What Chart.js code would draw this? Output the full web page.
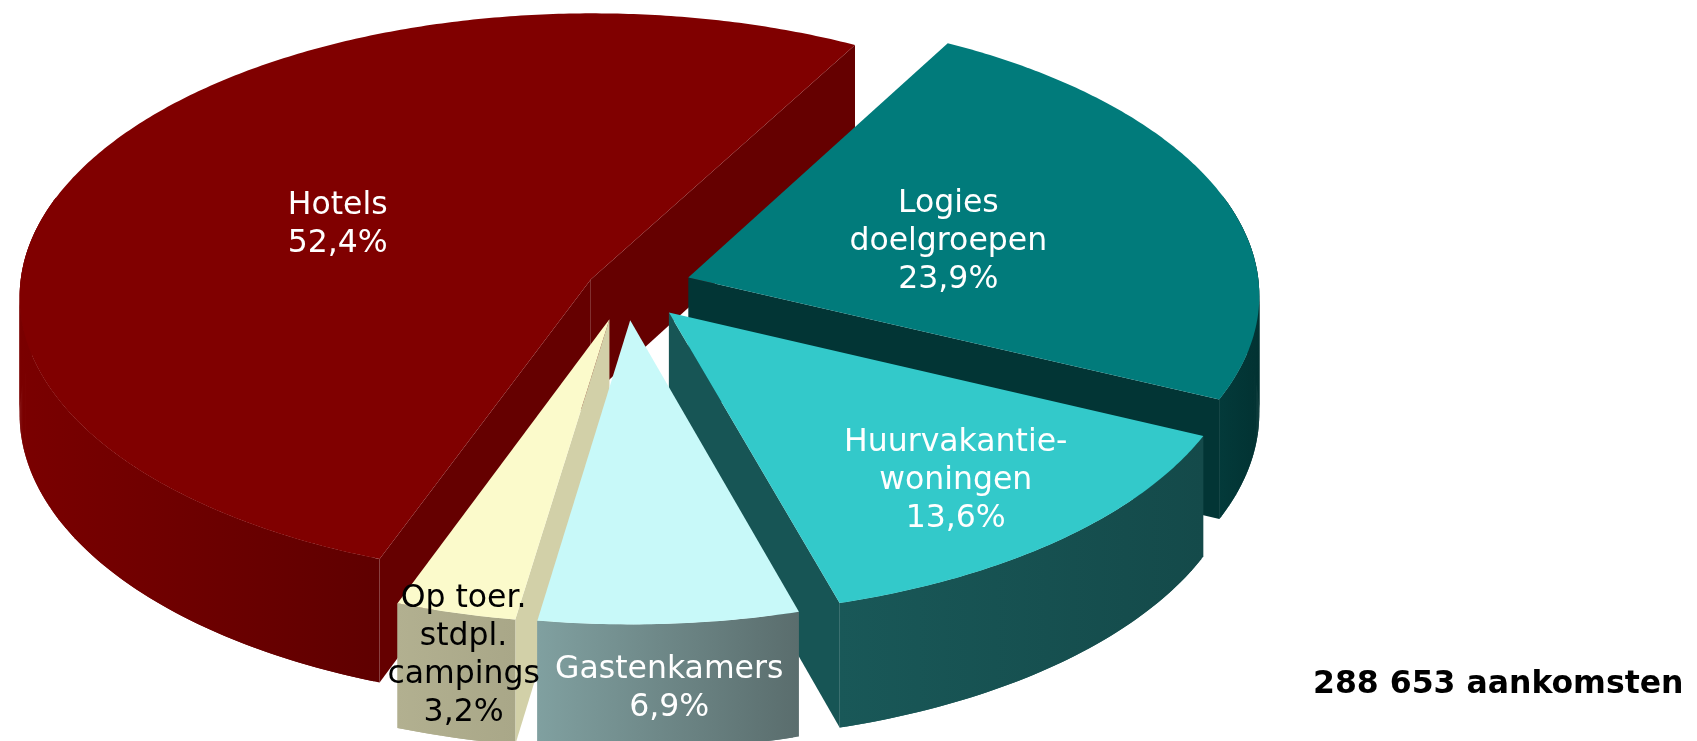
<!DOCTYPE html>
<html>
<head>
<meta charset="utf-8">
<script src="https://cdn.jsdelivr.net/npm/chart.js@4.4.1/dist/chart.umd.min.js"></script>
<style>
  html, body { margin: 0; padding: 0; background: #fff; }
  #wrap { width: 1697px; height: 741px; position: relative; }
</style>
</head>
<body>
<div id="wrap"><canvas id="pie"></canvas></div>
<script>
// ---- data ----
const categories = ['Hotels', 'Logies doelgroepen', 'Huurvakantiewoningen', 'Gastenkamers', 'Op toer. stdpl. campings'];
const labelLines = [['Hotels'], ['Logies', 'doelgroepen'], ['Huurvakantie-', 'woningen'], ['Gastenkamers'], ['Op toer.', 'stdpl.', 'campings']];
const shares = [52.4, 23.9, 13.6, 6.9, 3.2];
const totalText = '288 653 aankomsten';

// ---- look ----
const topColors  = ['#800000', '#017b7b', '#33c9ca', '#c8f9f9', '#fbfacb'];
const cutColors  = ['#650000', '#023535', '#175555', '#6e8c8c', '#d2d0a8'];
const wallColors = [['#7a0000', '#5f0000'], ['#033a3a', '#023232'], ['#195858', '#144a4a'], ['#80a0a0', '#5a6d6d'], ['#b2b090', '#a9a788']];
const textColors = ['#fff', '#fff', '#fff', '#fff', '#000'];
const explode    = [0.068, 0.115, 0.115, 0.115, 0.115];
const labelSpot  = [[0.495, 0], [0.485, 0.03], [0.74, 0], [1.0, 0.5], [0.95, 0.45]]; // radius fraction, wall depth fraction

// fake 3D: tilted disc with a little perspective
const CX = 626, CY = 287.6, RX = 571, RY = 282.6, DEPTH = 117, PERSP = 0.058;

function project(X, Z, Y) {
    const f = 1 / (1 + PERSP * Z);
    return [CX + X * RX * f, CY + (-Z * RY + Y * DEPTH) * f];
}

const pie3d = {
    id: 'pie3d',
    beforeDatasetsDraw(chart) {
        const ctx = chart.ctx;
        const arcs = chart.getDatasetMeta(0).data;
        const faces = [];
        const tops = [];

        arcs.forEach((arc, i) => {
            const s = arc.startAngle, e = arc.endAngle;
            const m = (s + e) / 2;
            const ox = explode[i] * Math.cos(m), oz = -explode[i] * Math.sin(m);
            const pt = (phi, r, Y) => project(ox + r * Math.cos(phi), oz - r * Math.sin(phi), Y);

            const steps = Math.max(8, Math.ceil((e - s) / 0.01));
            const angs = [];
            for (let k = 0; k <= steps; k++) angs.push(s + (e - s) * k / steps);

            // top face
            tops.push({ i, pts: [pt(s, 0, 0)].concat(angs.map(a => pt(a, 1, 0))) });

            // outer wall: front part plus a bit past the silhouette (hidden under the top face)
            const front = angs.filter(a => Math.sin(a) > -0.3);
            if (front.length > 1) {
                const up = front.map(a => pt(a, 1, 0));
                const down = front.map(a => pt(a, 1, 1));
                const z = front.reduce((acc, a) => acc + oz - Math.sin(a), 0) / front.length;
                faces.push({ z, up, down, grad: wallColors[i] });
            }

            // cut faces
            if (Math.cos(s) < 0) {
                faces.push({ z: oz - Math.sin(s) / 2, pts: [pt(s, 0, 0), pt(s, 1, 0), pt(s, 1, 1), pt(s, 0, 1)], fill: cutColors[i] });
            }
            if (Math.cos(e) > 0) {
                faces.push({ z: oz - Math.sin(e) / 2, pts: [pt(e, 0, 0), pt(e, 1, 0), pt(e, 1, 1), pt(e, 0, 1)], fill: cutColors[i] });
            }
        });

        const path = pts => {
            ctx.beginPath();
            pts.forEach((p, k) => k ? ctx.lineTo(p[0], p[1]) : ctx.moveTo(p[0], p[1]));
            ctx.closePath();
        };

        ctx.save();
        faces.sort((a, b) => b.z - a.z);
        faces.forEach(fc => {
            if (fc.grad) {
                // wall as small overlapping strips, so the fold at the silhouette leaves no hole
                const xs = fc.up.map(p => p[0]);
                const g = ctx.createLinearGradient(Math.min(...xs), 0, Math.max(...xs), 0);
                g.addColorStop(0, fc.grad[0]);
                g.addColorStop(1, fc.grad[1]);
                ctx.fillStyle = g;
                const n = fc.up.length;
                for (let k = 0; k < n - 1; k++) {
                    const k2 = Math.min(k + 2, n - 1);
                    path([fc.up[k], fc.up[k2], fc.down[k2], fc.down[k]]);
                    ctx.fill();
                }
            } else {
                path(fc.pts);
                ctx.fillStyle = fc.fill;
                ctx.fill();
            }
        });
        tops.forEach(t => {
            path(t.pts);
            ctx.fillStyle = topColors[t.i];
            ctx.fill();
        });
        ctx.restore();
        return false;
    },
    // labels go in afterDraw: afterDatasetsDraw is skipped once beforeDatasetsDraw returns false
    afterDraw(chart) {
        const ctx = chart.ctx;
        const arcs = chart.getDatasetMeta(0).data;
        ctx.save();
        ctx.textAlign = 'center';
        ctx.textBaseline = 'alphabetic';
        ctx.font = '31.5px "DejaVu Sans"';
        arcs.forEach((arc, i) => {
            const m = (arc.startAngle + arc.endAngle) / 2;
            const r = explode[i] + labelSpot[i][0];
            const p = project(r * Math.cos(m), -r * Math.sin(m), labelSpot[i][1]);
            const lines = labelLines[i].concat([shares[i].toFixed(1).replace('.', ',') + '%']);
            const lh = 38;
            const y0 = p[1] - (lines.length - 1) * lh / 2 + 11;
            ctx.fillStyle = textColors[i];
            lines.forEach((ln, k) => ctx.fillText(ln, p[0], y0 + k * lh));
        });
        ctx.font = 'bold 31.5px "DejaVu Sans"';
        ctx.fillStyle = '#000';
        ctx.textAlign = 'left';
        ctx.fillText(totalText, 1313, 693);
        ctx.restore();
    }
};

new Chart(document.getElementById('pie'), {
    type: 'pie',
    data: {
        labels: categories,
        datasets: [{ data: shares, backgroundColor: topColors, borderWidth: 0 }]
    },
    options: {
        responsive: true,
        maintainAspectRatio: false,
        animation: false,
        rotation: 200.3,
        events: [],
        plugins: { legend: { display: false }, tooltip: { enabled: false } }
    },
    plugins: [pie3d]
});
</script>
</body>
</html>
